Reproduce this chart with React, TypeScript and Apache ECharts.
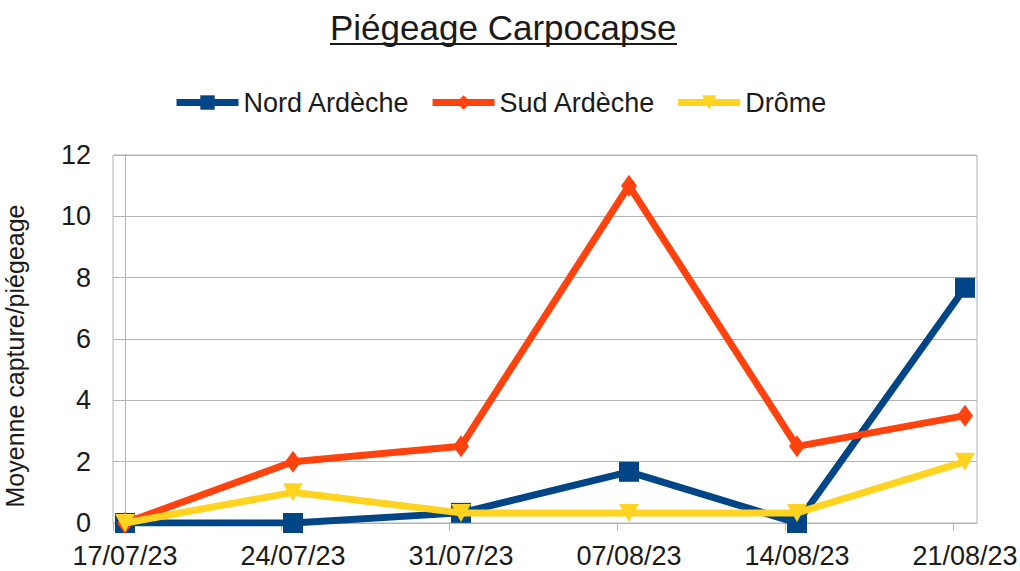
import React, { useEffect, useRef } from "react";
import * as echarts from "echarts";

const dates = ["17/07/23", "24/07/23", "31/07/23", "07/08/23", "14/08/23", "21/08/23"];
const nordArdeche = [0, 0, 0.33, 1.67, 0, 7.67];
const sudArdeche = [0, 2, 2.5, 11, 2.5, 3.5];
const drome = [0, 1, 0.33, 0.33, 0.33, 2];
const yTicks = [0, 2, 4, 6, 8, 10, 12];

const pad = 12 / 168;
const toPairs = (arr: number[]) => arr.map((v, i) => [i, v]);

export default function App() {
  const ref = useRef<HTMLDivElement>(null);
  useEffect(() => {
    if (!ref.current) return;
    const chart = echarts.init(ref.current, undefined, { renderer: "svg" });
    const grey = "#b3b3b3";
    const textColor = "#1a1a1a";
    const font = "Liberation Sans, Arial, sans-serif";
    chart.setOption({
      animation: false,
      backgroundColor: "#ffffff",
      title: {
        text: "Piégeage Carpocapse",
        left: 325,
        top: 5,
        textStyle: { fontSize: 35, fontWeight: "normal", color: textColor, fontFamily: font },
      },
      graphic: [
        {
          type: "line",
          shape: { x1: 330, y1: 44, x2: 677, y2: 44 },
          style: { stroke: textColor, lineWidth: 2 },
        },
      ],
      legend: {
        top: 89,
        left: 173,
        padding: 0,
        itemWidth: 62,
        itemHeight: 18,
        itemGap: 19,
        lineStyle: { width: 7 },
        textStyle: { fontSize: 27, color: textColor, fontFamily: font },
        data: ["Nord Ardèche", "Sud Ardèche", "Drôme"],
      },
      grid: {
        left: 113,
        right: 43,
        top: 155,
        bottom: 48,
        show: true,
        borderColor: grey,
        borderWidth: 1,
        outerBoundsMode: "none",
        containLabel: false,
      },
      xAxis: {
        type: "value",
        min: -pad,
        max: dates.length - 1 + pad,
        splitLine: { show: false },
        axisLine: { show: true, lineStyle: { color: grey } },
        axisTick: {
          show: true,
          length: 8,
          lineStyle: { color: grey },
          customValues: dates.map((_, i) => i - pad),
        },
        axisLabel: {
          customValues: dates.map((_, i) => i),
          formatter: (v: number) => dates[Math.round(v)] ?? "",
          fontSize: 27,
          color: textColor,
          fontFamily: font,
          margin: 19,
          showMinLabel: true,
          showMaxLabel: true,
        },
      },
      yAxis: {
        type: "value",
        min: 0,
        max: 12,
        interval: 2,
        name: "Moyenne capture/piégeage",
        nameLocation: "middle",
        nameRotate: 90,
        nameGap: 86,
        nameTextStyle: { fontSize: 25, color: textColor, fontFamily: font, padding: [0, 34, 0, 0] },
        axisLine: { show: true, lineStyle: { color: grey } },
        axisTick: { show: true, length: 9, lineStyle: { color: grey } },
        splitLine: { show: true, lineStyle: { color: grey, width: 1 } },
        axisLabel: {
          fontSize: 27,
          color: textColor,
          fontFamily: font,
          margin: 22,
          formatter: (v: number) => (yTicks.includes(v) ? String(v) : ""),
        },
      },
      series: [
        {
          name: "Nord Ardèche",
          type: "line",
          data: toPairs(nordArdeche),
          color: "#004586",
          lineStyle: { width: 7, color: "#004586" },
          symbol: "rect",
          symbolSize: 20,
          itemStyle: { color: "#004586" },
          z: 2,
        },
        {
          name: "Sud Ardèche",
          type: "line",
          data: toPairs(sudArdeche),
          color: "#ff420e",
          lineStyle: { width: 7, color: "#ff420e" },
          symbol: "diamond",
          symbolSize: [16, 22],
          itemStyle: { color: "#ff420e" },
          z: 3,
        },
        {
          name: "Drôme",
          type: "line",
          data: toPairs(drome),
          color: "#ffd320",
          lineStyle: { width: 7, color: "#ffd320" },
          symbol: "triangle",
          symbolRotate: 180,
          symbolSize: [20, 18],
          itemStyle: { color: "#ffd320" },
          z: 4,
        },
      ],
    });
    return () => chart.dispose();
  }, []);
  return (
    <div
      ref={ref}
      style={{ position: "fixed", left: 0, top: 0, width: 1020, height: 571, background: "#fff" }}
    />
  );
}
